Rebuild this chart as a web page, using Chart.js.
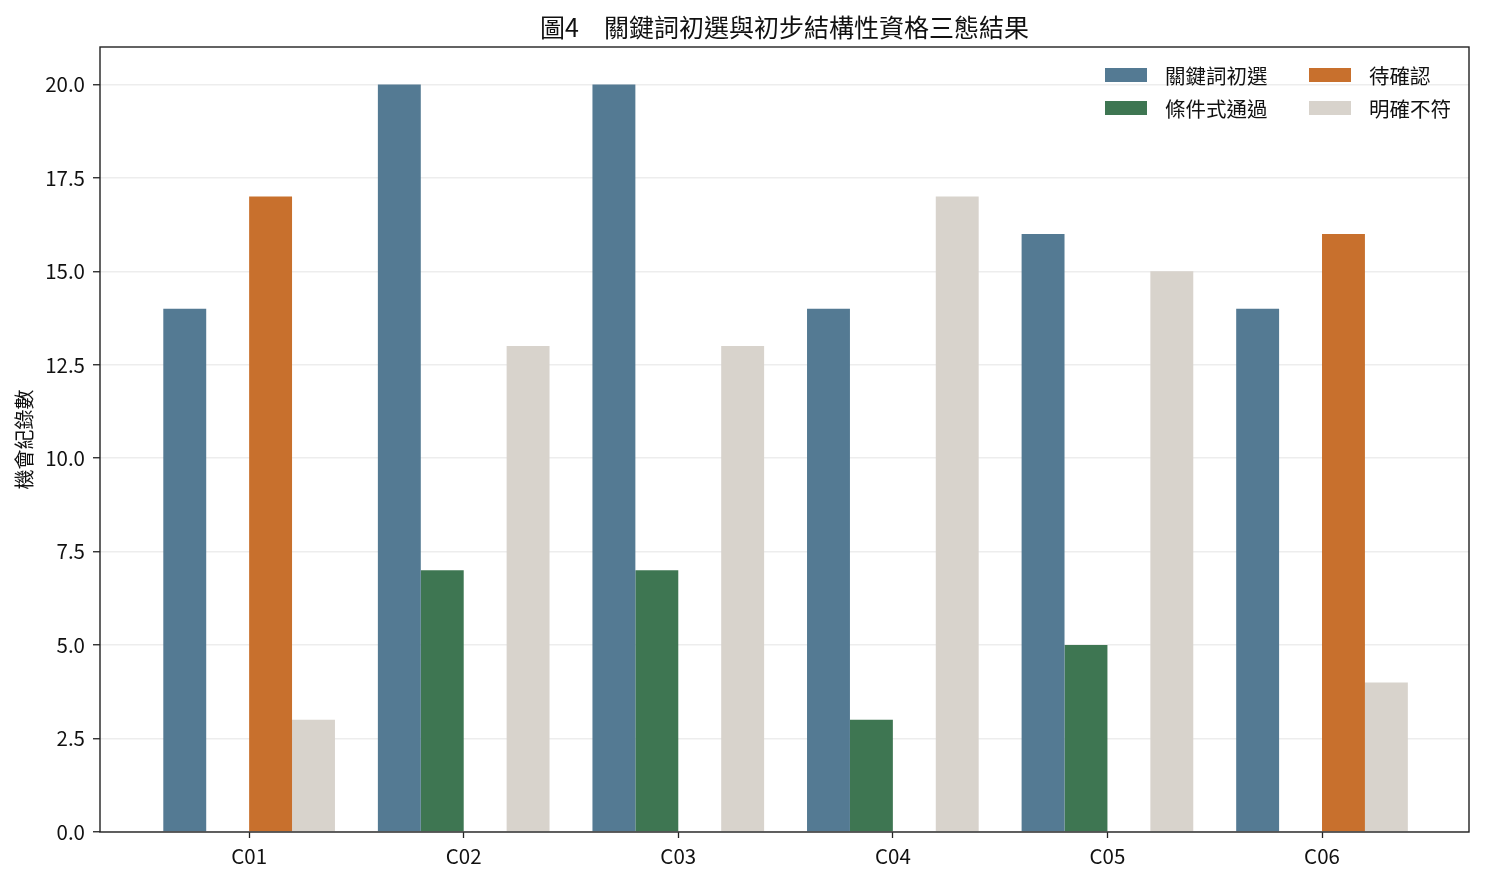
<!DOCTYPE html>
<html>
<head>
<meta charset="utf-8">
<script src="https://cdn.jsdelivr.net/npm/chart.js@4.4.1/dist/chart.umd.min.js"></script>
<style>
  html, body { margin: 0; padding: 0; background: #fff; }
  #wrap { width: 1485px; height: 885px; }
</style>
</head>
<body>
<div id="wrap"><canvas id="chart"></canvas></div>
<script>
// data
const categories = ["C01", "C02", "C03", "C04", "C05", "C06"];
const seriesNames = ["關鍵詞初選", "條件式通過", "待確認", "明確不符"];
const keywordPass = [14, 20, 20, 14, 16, 14];
const conditionalPass = [0, 7, 7, 3, 5, 0];
const pending = [17, 0, 0, 0, 0, 16];
const clearlyFail = [3, 13, 13, 17, 15, 4];
const yTicks = [0, 2.5, 5, 7.5, 10, 12.5, 15, 17.5, 20];
const chartTitle = "圖4　關鍵詞初選與初步結構性資格三態結果";

const colors = ["#547a93", "#3e7652", "#c8702d", "#d8d3cc"];
const FONT = "'Noto Sans CJK TC', 'Noto Sans CJK SC', 'Noto Sans', sans-serif";
const INK = "#111";

Chart.defaults.font.family = FONT;
Chart.defaults.color = INK;

const toPoints = (arr) => arr.map((v, i) => ({ x: i, y: v }));
const allSeries = [keywordPass, conditionalPass, pending, clearlyFail];

// frame, title over the plot and legend in the top-right (2 cols)
const framePlugin = {
  id: "frame",
  afterDraw(chart) {
    const { ctx, chartArea: a } = chart;
    ctx.save();
    ctx.strokeStyle = "#222";
    ctx.lineWidth = 1.4;
    ctx.strokeRect(a.left, a.top, a.right - a.left, a.bottom - a.top);

    // title centred on the plot area
    ctx.font = "25px " + FONT;
    ctx.fillStyle = INK;
    ctx.textAlign = "center";
    ctx.textBaseline = "middle";
    ctx.fillText(chartTitle, (a.left + a.right) / 2, 27);

    ctx.font = "20.5px " + FONT;
    ctx.textAlign = "left";
    const cols = [1105, 1309];
    const rows = [75, 108];
    chart.data.datasets.forEach((ds, i) => {
      const col = Math.floor(i / 2), row = i % 2;
      const x = cols[col], y = rows[row];
      ctx.fillStyle = ds.backgroundColor;
      ctx.fillRect(x, y - 7, 42, 14);
      ctx.fillStyle = INK;
      ctx.fillText(ds.label, x + 60, y + 1);
    });
    ctx.restore();
  }
};

new Chart(document.getElementById("chart"), {
  type: "bar",
  data: {
    datasets: seriesNames.map((name, i) => ({
      label: name,
      data: toPoints(allSeries[i]),
      backgroundColor: colors[i],
      borderWidth: 0,
      categoryPercentage: 0.8,
      barPercentage: 1.0
    }))
  },
  options: {
    responsive: true,
    maintainAspectRatio: false,
    animation: false,
    layout: { padding: { left: 0, right: 16, top: 47, bottom: 0 } },
    plugins: {
      legend: { display: false },
      tooltip: { enabled: false },
      title: { display: false }
    },
    scales: {
      x: {
        type: "linear",
        min: -0.695,
        max: 5.685,
        offset: false,
        grid: { offset: false, drawOnChartArea: false, tickColor: "#222", tickLength: 6, tickWidth: 1.3 },
        border: { display: false },
        afterBuildTicks(scale) {
          scale.ticks = categories.map((_, i) => ({ value: i }));
        },
        ticks: {
          font: { size: 20.5 },
          color: INK,
          padding: 6,
          maxRotation: 0,
          callback: (v) => categories[v]
        },
        afterFit(scale) { scale.height = 53; }
      },
      y: {
        min: 0,
        max: 21,
        z: 1,
        grid: { color: "rgba(222,222,222,0.55)", lineWidth: 1.5, tickColor: "#222", tickLength: 7, tickWidth: 1.3 },
        border: { display: false },
        afterBuildTicks(scale) {
          scale.ticks = yTicks.map((v) => ({ value: v }));
        },
        ticks: {
          font: { size: 20.5 },
          color: INK,
          padding: 8,
          callback: (v) => Number(v).toFixed(1)
        },
        title: {
          display: true,
          text: "機會紀錄數",
          font: { size: 20 },
          color: INK,
          padding: { top: 12, bottom: 0 }
        },
        afterFit(scale) { scale.width = 100; }
      }
    }
  },
  plugins: [framePlugin]
});
</script>
</body>
</html>
